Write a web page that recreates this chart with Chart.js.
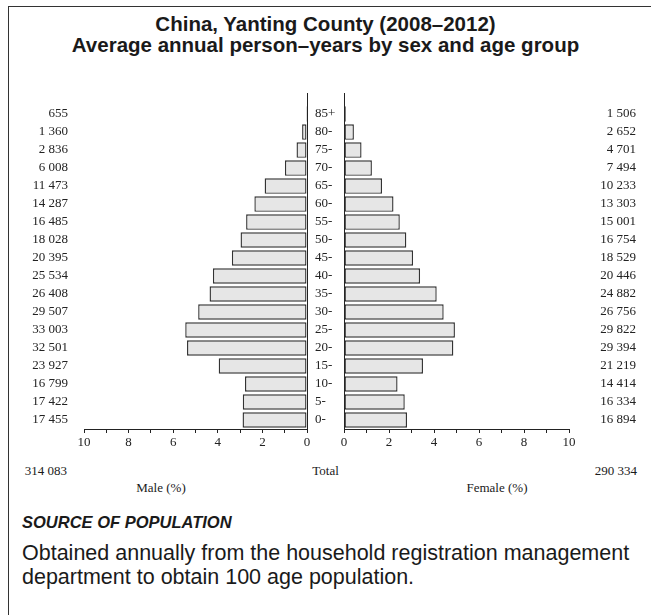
<!DOCTYPE html>
<html>
<head>
<meta charset="utf-8">
<script src="https://cdn.jsdelivr.net/npm/chart.js@4"></script>
<style>
  body { margin: 0; background: #fff; width: 651px; height: 615px; overflow: hidden; position: relative; font-family: "Liberation Sans", Arial, sans-serif; color: #1a1a1a; }
  .frame { position: absolute; left: 8px; top: 6px; width: 700px; height: 700px; border-left: 1px solid #333; border-top: 1px solid #333; }
  .title { position: absolute; left: 0; top: 13px; width: 651px; text-align: center; font-weight: bold; font-size: 20.5px; line-height: 21px; }
  .wrap { position: absolute; }
  .serif { position: absolute; font-family: "Liberation Serif", "Times New Roman", serif; font-size: 13px; line-height: 15px; white-space: nowrap; }
  .source-head { position: absolute; left: 22px; top: 512px; font-size: 16.5px; line-height: 20px; font-weight: bold; font-style: italic; }
  .source-body { position: absolute; left: 22px; top: 541px; width: 625px; font-size: 21.5px; line-height: 24px; }
</style>
</head>
<body>
<div class="frame"></div>
<div class="title">China, Yanting County (2008–2012)<br>Average annual person–years by sex and age group</div>

<div class="wrap" id="maleWrap"><canvas id="male-chart" width="350" height="392"></canvas></div>
<div class="wrap" id="femaleWrap"><canvas id="female-chart" width="302" height="392"></canvas></div>

<div class="serif" id="maleTotal" style="right:584px; top:463px;"></div>
<div class="serif" style="left:0; width:651px; text-align:center; top:463px;">Total</div>
<div class="serif" id="femaleTotal" style="right:14px; top:463px;"></div>
<div class="serif" style="left:111px; width:100px; text-align:center; top:480px;">Male (%)</div>
<div class="serif" style="left:447px; width:100px; text-align:center; top:480px;">Female (%)</div>

<div class="source-head">SOURCE OF POPULATION</div>
<div class="source-body">Obtained annually from the household registration management department to obtain 100 age population.</div>

<script>
// age groups, bottom to top
const ageGroups = ['0-', '5-', '10-', '15-', '20-', '25-', '30-', '35-', '40-', '45-', '50-', '55-', '60-', '65-', '70-', '75-', '80-', '85+'];

// person-years per age group
const maleCounts = [17455, 17422, 16799, 23927, 32501, 33003, 29507, 26408, 25534, 20395, 18028, 16485, 14287, 11473, 6008, 2836, 1360, 655];
const femaleCounts = [16894, 16334, 14414, 21219, 29394, 29822, 26756, 24882, 20446, 18529, 16754, 15001, 13303, 10233, 7494, 4701, 2652, 1506];

// bar lengths (% of total)
const malePct = [2.89, 2.88, 2.78, 3.96, 5.38, 5.46, 4.88, 4.37, 4.22, 3.37, 2.98, 2.73, 2.36, 1.90, 0.99, 0.47, 0.22, 0.04];
const femalePct = [2.80, 2.70, 2.38, 3.51, 4.86, 4.93, 4.43, 4.12, 3.38, 3.07, 2.77, 2.48, 2.20, 1.69, 1.24, 0.78, 0.44, 0.08];

const maleTotal = '314 083';
const femaleTotal = '290 334';

const xTicks = [0, 2, 4, 6, 8, 10];

const fmt = n => String(n).replace(/\B(?=(\d{3})+(?!\d))/g, ' ');
const serif = { family: 'Liberation Serif', size: 13 };
const ink = '#222';

document.getElementById('maleTotal').textContent = maleTotal;
document.getElementById('femaleTotal').textContent = femaleTotal;

function ageTicks(scale) {
  scale.ticks = ageGroups.map((a, i) => ({ value: i }));
}

function yScale(position, extra) {
  return Object.assign({
    type: 'linear',
    position: position,
    min: -0.5,
    max: 18.17,
    offset: false,
    afterBuildTicks: ageTicks,
    grid: { display: true, drawOnChartArea: false, drawTicks: false },
    border: { display: false },
    ticks: { autoSkip: false, font: serif, color: ink }
  }, extra);
}

function xScale(reverse) {
  return {
    type: 'linear',
    min: 0,
    max: 10,
    reverse: reverse,
    afterFit: s => { s.height = 30; },
    grid: { drawOnChartArea: false, drawTicks: true, tickLength: 4, color: ink, lineWidth: 1 },
    border: { display: true, color: ink, width: 1 },
    ticks: {
      stepSize: 1,
      autoSkip: false,
      maxRotation: 0,
      padding: 2,
      font: serif,
      color: ink,
      callback: v => xTicks.includes(v) ? v : ''
    }
  };
}

function barSet(values) {
  return [{
    yAxisID: 'y',
    data: values.map((v, i) => ({ x: v, y: i })),
    backgroundColor: '#e6e6e6',
    borderColor: '#333',
    borderWidth: 1.4,
    borderSkipped: false,
    categoryPercentage: 1,
    barPercentage: 0.86
  }];
}

const baseOptions = {
  indexAxis: 'y',
  responsive: false,
  animation: false,
  devicePixelRatio: 1,
  layout: { padding: { top: 26, bottom: 0, left: 0, right: 0 } },
  plugins: { legend: { display: false }, tooltip: { enabled: false } }
};

const maleChart = new Chart(document.getElementById('male-chart'), {
  type: 'bar',
  data: { datasets: barSet(malePct) },
  options: Object.assign({}, baseOptions, {
    scales: {
      x: xScale(true),
      counts: yScale('left', {
        afterFit: s => { s.width = 84; },
        ticks: { autoSkip: false, font: serif, color: ink, padding: 16, callback: v => fmt(maleCounts[v]) }
      }),
      y: yScale('right', {
        afterFit: s => { s.width = 43; },
        border: { display: true, color: ink, width: 1 },
        ticks: { autoSkip: false, font: serif, color: ink, padding: 8, callback: v => ageGroups[v] }
      })
    }
  })
});

const femaleChart = new Chart(document.getElementById('female-chart'), {
  type: 'bar',
  data: { datasets: barSet(femalePct) },
  options: Object.assign({}, baseOptions, {
    scales: {
      x: xScale(false),
      y: yScale('left', {
        afterFit: s => { s.width = 10; },
        border: { display: true, color: ink, width: 1 },
        ticks: { display: false }
      }),
      counts: yScale('right', {
        afterFit: s => { s.width = 67; },
        ticks: { autoSkip: false, font: serif, color: ink, padding: 0, crossAlign: 'far', callback: v => fmt(femaleCounts[v]) }
      })
    }
  })
});

// line the plot areas up with the page
function place(chart, id, left, top) {
  const w = document.getElementById(id);
  w.style.left = (left - chart.chartArea.left) + 'px';
  w.style.top = (top - chart.chartArea.top) + 'px';
}
place(maleChart, 'maleWrap', 84, 93);
place(femaleChart, 'femaleWrap', 344, 93);
</script>
</body>
</html>
